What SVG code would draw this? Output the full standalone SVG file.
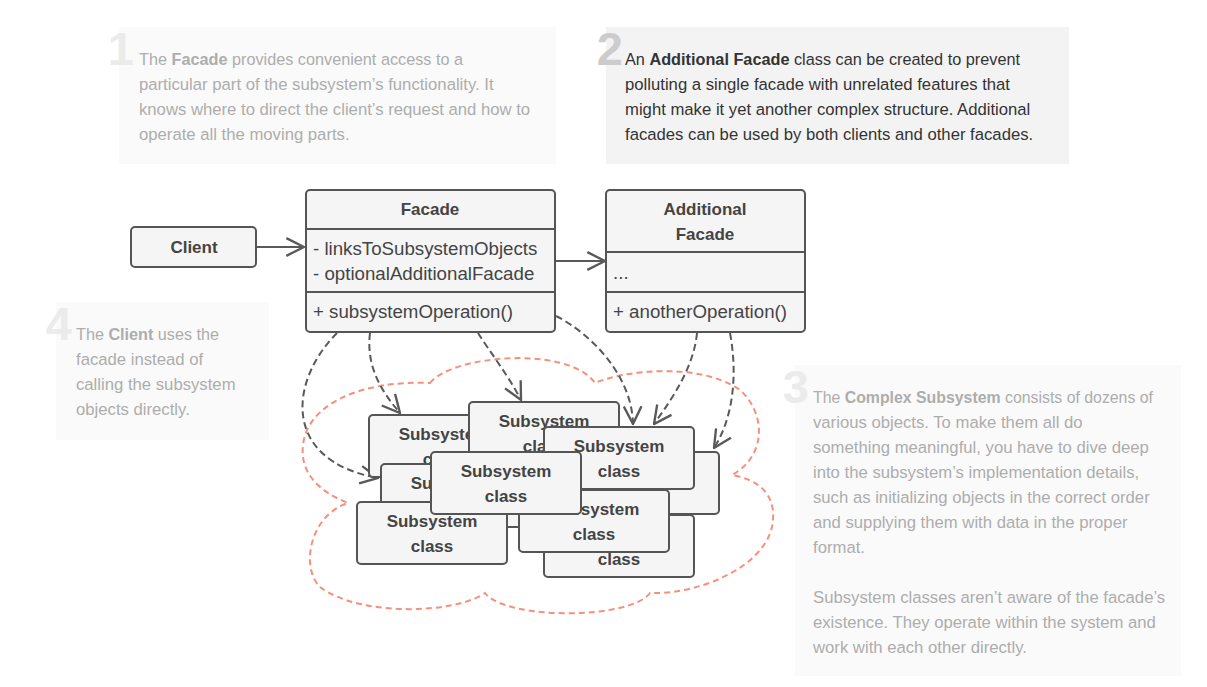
<svg xmlns="http://www.w3.org/2000/svg" width="1207" height="687" viewBox="0 0 1207 687">
<style>
  .note-bg { fill: #fafafa; }
  .note-bg-active { fill: #f3f3f3; }
  .num { font-family: "Liberation Sans", Arial, sans-serif; font-weight: bold; font-size: 47px; fill: #ebebeb; text-anchor: end; }
  .num-active { fill: #cccccc; }
  .note { font-family: "Liberation Sans", Arial, sans-serif; font-size: 16.7px; fill: #adadad; }
  .note-active { fill: #333333; }
  .b { font-weight: bold; }
  .box { fill: #f5f5f5; stroke: #555555; stroke-width: 2; }
  .title { font-family: "Liberation Sans", Arial, sans-serif; font-weight: bold; font-size: 17px; fill: #444444; text-anchor: middle; }
  .member { font-family: "Liberation Sans", Arial, sans-serif; font-size: 18.7px; fill: #444444; }
  .solid { fill: none; stroke: #595959; stroke-width: 2; }
  .dashed { fill: none; stroke: #595959; stroke-width: 2; stroke-dasharray: 7 4; }
  .cloud { fill: none; stroke: #f4917c; stroke-width: 2; stroke-dasharray: 6 4; }
</style>
<defs>
  <marker id="open-arrow" markerUnits="userSpaceOnUse" markerWidth="20" markerHeight="20" viewBox="0 0 17 17" refX="16" refY="8.5" orient="auto">
    <path d="M1,1 L16,8.5 L1,16" fill="none" stroke="#595959" stroke-width="2" stroke-dasharray="none" stroke-linejoin="miter"/>
  </marker>
</defs>
<rect width="1207" height="687" fill="#ffffff"/>

<g id="note-1">
  <rect class="note-bg" x="119" y="27" width="437" height="137"/>
  <text class="num" x="134" y="65">1</text>
  <text class="note" x="139" y="65" textLength="324" lengthAdjust="spacingAndGlyphs">The <tspan class="b">Facade</tspan> provides convenient access to a</text>
  <text class="note" x="139" y="90">particular part of the subsystem’s functionality. It</text>
  <text class="note" x="139" y="115">knows where to direct the client’s request and how to</text>
  <text class="note" x="139" y="140">operate all the moving parts.</text>
</g>

<g id="note-2">
  <rect class="note-bg-active" x="606" y="27" width="463" height="137"/>
  <text class="num num-active" x="623" y="65">2</text>
  <text class="note note-active" x="625" y="65" textLength="395" lengthAdjust="spacingAndGlyphs">An <tspan class="b">Additional Facade</tspan> class can be created to prevent</text>
  <text class="note note-active" x="625" y="90">polluting a single facade with unrelated features that</text>
  <text class="note note-active" x="625" y="115">might make it yet another complex structure. Additional</text>
  <text class="note note-active" x="625" y="140">facades can be used by both clients and other facades.</text>
</g>

<g id="note-4">
  <rect class="note-bg" x="56" y="302" width="213" height="138"/>
  <text class="num" x="72" y="340">4</text>
  <text class="note" x="76" y="340" textLength="143" lengthAdjust="spacingAndGlyphs">The <tspan class="b">Client</tspan> uses the</text>
  <text class="note" x="76" y="365">facade instead of</text>
  <text class="note" x="76" y="390">calling the subsystem</text>
  <text class="note" x="76" y="415">objects directly.</text>
</g>

<g id="note-3">
  <rect class="note-bg" x="795" y="365" width="386" height="311"/>
  <text class="num" x="809" y="403">3</text>
  <text class="note" x="813" y="403" textLength="340" lengthAdjust="spacingAndGlyphs">The <tspan class="b">Complex Subsystem</tspan> consists of dozens of</text>
  <text class="note" x="813" y="428">various objects. To make them all do</text>
  <text class="note" x="813" y="453">something meaningful, you have to dive deep</text>
  <text class="note" x="813" y="478">into the subsystem’s implementation details,</text>
  <text class="note" x="813" y="503">such as initializing objects in the correct order</text>
  <text class="note" x="813" y="528">and supplying them with data in the proper</text>
  <text class="note" x="813" y="553">format.</text>
  <text class="note" x="813" y="603">Subsystem classes aren’t aware of the facade’s</text>
  <text class="note" x="813" y="628">existence. They operate within the system and</text>
  <text class="note" x="813" y="653">work with each other directly.</text>
</g>

<g id="subsystem-cloud">
  <path class="cloud" d="M430,383 C452,355 568,345 595,383 C625,370 700,362 740,390 C765,412 768,455 732,475 C760,480 775,495 773,520 C770,565 700,595 650,593 C630,620 505,620 485,593 C455,614 360,617 320,587 C300,567 310,515 348,503 C315,490 300,470 303,445 C307,405 360,380 430,383 Z"/>
</g>

<g id="connectors">
  <path class="solid" d="M256,247 L304,247" marker-end="url(#open-arrow)"/>
  <path class="solid" d="M555,261 L605,261" marker-end="url(#open-arrow)"/>
  <path class="dashed" d="M337,333 C290,380 280,460 378,478" marker-end="url(#open-arrow)"/>
  <path class="dashed" d="M370,333 C366,365 380,390 400,413" marker-end="url(#open-arrow)"/>
  <path class="dashed" d="M478,333 C490,352 508,375 521,400" marker-end="url(#open-arrow)"/>
  <path class="dashed" d="M556,316 C590,333 632,375 633,424" marker-end="url(#open-arrow)"/>
  <path class="dashed" d="M697,333 C694,365 675,395 654,424" marker-end="url(#open-arrow)"/>
  <path class="dashed" d="M730,333 C737,370 735,415 714,448" marker-end="url(#open-arrow)"/>
</g>

<g id="client">
  <rect class="box" x="131" y="227" width="125" height="40" rx="4"/>
  <text class="title" x="194" y="253">Client</text>
</g>

<g id="facade">
  <rect class="box" x="306" y="190" width="249" height="142" rx="4"/>
  <line x1="306" y1="229" x2="555" y2="229" stroke="#555555" stroke-width="2"/>
  <line x1="306" y1="292" x2="555" y2="292" stroke="#555555" stroke-width="2"/>
  <text class="title" x="430" y="215">Facade</text>
  <text class="member" x="313" y="255">- linksToSubsystemObjects</text>
  <text class="member" x="313" y="280">- optionalAdditionalFacade</text>
  <text class="member" x="313" y="318">+ subsystemOperation()</text>
</g>

<g id="additional-facade">
  <rect class="box" x="606" y="190" width="199" height="142" rx="4"/>
  <line x1="606" y1="252" x2="805" y2="252" stroke="#555555" stroke-width="2"/>
  <line x1="606" y1="292" x2="805" y2="292" stroke="#555555" stroke-width="2"/>
  <text class="title" x="705" y="215">Additional</text>
  <text class="title" x="705" y="240">Facade</text>
  <text class="member" x="613" y="279">...</text>
  <text class="member" x="613" y="318">+ anotherOperation()</text>
</g>

<g id="subsystem-a">
  <rect class="box" x="369" y="415" width="150" height="62" rx="4"/>
  <text class="title" x="444" y="440">Subsystem</text>
  <text class="title" x="444" y="465">class</text>
</g>
<g id="subsystem-b">
  <rect class="box" x="469" y="402" width="150" height="62" rx="4"/>
  <text class="title" x="544" y="427">Subsystem</text>
  <text class="title" x="544" y="452">class</text>
</g>
<g id="subsystem-c">
  <rect class="box" x="569" y="452" width="150" height="62" rx="4"/>
</g>
<g id="subsystem-h">
  <rect class="box" x="544" y="427" width="150" height="62" rx="4"/>
  <text class="title" x="619" y="452">Subsystem</text>
  <text class="title" x="619" y="477">class</text>
</g>
<g id="subsystem-d">
  <rect class="box" x="544" y="515" width="150" height="62" rx="4"/>
  <text class="title" x="619" y="565">class</text>
</g>
<g id="subsystem-e">
  <rect class="box" x="381" y="464" width="150" height="63" rx="4"/>
  <text class="title" x="456" y="489">Subsystem</text>
</g>
<g id="subsystem-f">
  <rect class="box" x="519" y="490" width="150" height="62" rx="4"/>
  <text class="title" x="594" y="515">Subsystem</text>
  <text class="title" x="594" y="540">class</text>
</g>
<g id="subsystem-g">
  <rect class="box" x="357" y="502" width="150" height="62" rx="4"/>
  <text class="title" x="432" y="527">Subsystem</text>
  <text class="title" x="432" y="552">class</text>
</g>
<g id="subsystem-i">
  <rect class="box" x="431" y="452" width="150" height="62" rx="4"/>
  <text class="title" x="506" y="477">Subsystem</text>
  <text class="title" x="506" y="502">class</text>
</g>
</svg>
